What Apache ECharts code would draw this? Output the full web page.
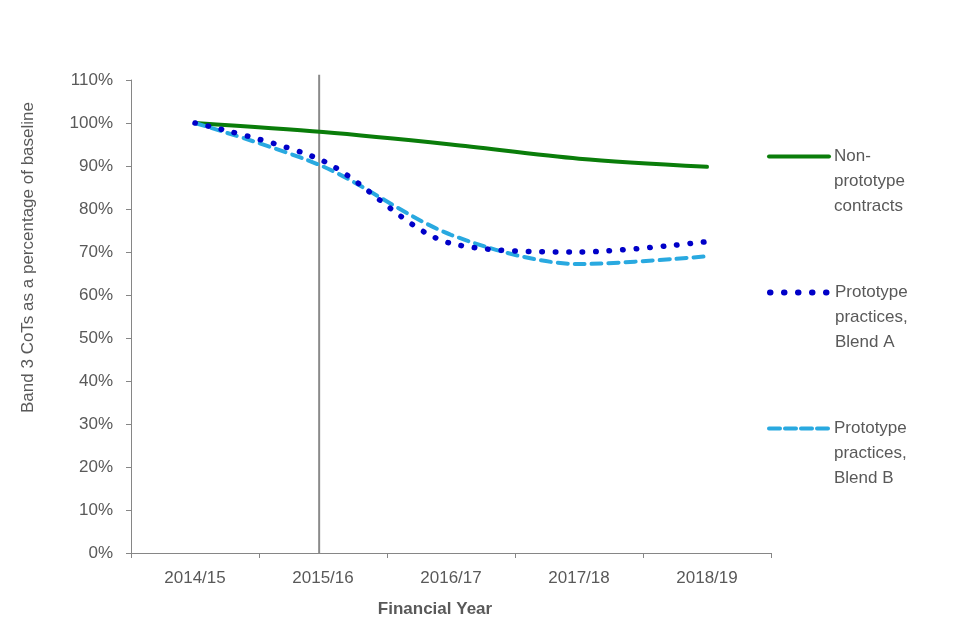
<!DOCTYPE html>
<html>
<head>
<meta charset="utf-8">
<script src="https://cdn.jsdelivr.net/npm/echarts@6/dist/echarts.min.js"></script>
<style>
html,body{margin:0;padding:0;background:#fff;}
#chart{width:960px;height:640px;}
</style>
</head>
<body>
<div id="chart"></div>
<script>
const years = ['2014/15', '2015/16', '2016/17', '2017/18', '2018/19'];
const nonPrototype = [100, 97.9, 95.0, 91.7, 89.8];
const blendA = [100, 91.2, 72.0, 70.0, 72.4];
const blendB = [100, 89.9, 74.0, 67.2, 69.0];
const dividerX = [0.97, 0.97];
const dividerY = [0, 111.2];
const seriesNames = ['Non-prototype contracts', 'Prototype practices, Blend A', 'Prototype practices, Blend B'];
const legendLabels = {
  'Non-prototype contracts': '\n\nNon-\nprototype\ncontracts',
  'Prototype practices, Blend A': '\n\nPrototype\npractices,\nBlend A',
  'Prototype practices, Blend B': '\n\nPrototype\npractices,\nBlend B'
};

const FONT = 'Liberation Sans';
const TXT = '#595959';
const AX = '#868686';

const chart = echarts.init(document.getElementById('chart'), null, {renderer: 'canvas'});

function legendFor(name, top, ls) {
  return {
    data: [name],
    left: 767,
    top: top,
    orient: 'vertical',
    padding: 0,
    itemWidth: 60,
    itemHeight: 14,
    selectedMode: false,
    formatter: n => legendLabels[n],
    itemStyle: {opacity: 0},
    lineStyle: ls,
    textStyle: {color: TXT, fontSize: 17, fontFamily: FONT, lineHeight: 25}
  };
}

chart.setOption({
  animation: false,
  backgroundColor: '#fff',
  grid: {left: 131, right: 189, top: 80, bottom: 87, containLabel: false},
  legend: [
    legendFor(seriesNames[0], 94, {width: 4, type: 'solid'}),
    legendFor(seriesNames[1], 230, {width: 6, type: [0.5, 13.5], cap: 'round'}),
    legendFor(seriesNames[2], 366, {width: 4, type: [11, 5], cap: 'round'})
  ],
  xAxis: [{
    type: 'category',
    data: years,
    boundaryGap: true,
    name: 'Financial Year',
    nameLocation: 'middle',
    nameGap: 48,
    nameTextStyle: {color: TXT, fontSize: 17, fontWeight: 'bold', fontFamily: FONT, padding: [0, 32, 0, 0]},
    axisLine: {lineStyle: {color: AX, width: 1}},
    axisTick: {show: true, length: 5, lineStyle: {color: AX}},
    axisLabel: {color: TXT, fontSize: 17, fontFamily: FONT, margin: 17},
    splitLine: {show: false}
  }, {
    type: 'value',
    min: -0.5,
    max: 4.5,
    show: false
  }],
  yAxis: {
    type: 'value',
    min: 0,
    max: 110,
    interval: 10,
    name: 'Band 3 CoTs as a percentage of baseline',
    nameLocation: 'middle',
    nameRotate: 90,
    nameGap: 94,
    nameTextStyle: {color: TXT, fontSize: 17, fontFamily: FONT, padding: [0, 0, 0, 118]},
    axisLine: {show: true, onZero: false, lineStyle: {color: AX, width: 1}},
    axisTick: {show: true, length: 5, lineStyle: {color: AX}},
    axisLabel: {color: TXT, fontSize: 17, fontFamily: FONT, margin: 18, formatter: '{value}%'},
    splitLine: {show: false}
  },
  series: [
    {
      name: 'divider',
      type: 'line',
      xAxisIndex: 1,
      data: dividerX.map((x, i) => [x, dividerY[i]]),
      symbol: 'none',
      clip: false,
      silent: true,
      lineStyle: {color: '#8a8a8a', width: 2},
      z: 1
    },
    {
      name: seriesNames[0],
      type: 'line',
      data: nonPrototype,
      smooth: 0.3,
      symbol: 'none',
      color: '#0a7d0a',
      lineStyle: {color: '#0a7d0a', width: 4, cap: 'round'},
      z: 3
    },
    {
      name: seriesNames[1],
      type: 'line',
      data: blendA,
      smooth: 0.3,
      symbol: 'none',
      color: '#0000c8',
      lineStyle: {color: '#0000c8', width: 5.5, type: [0.5, 13], cap: 'round'},
      z: 4
    },
    {
      name: seriesNames[2],
      type: 'line',
      data: blendB,
      smooth: 0.3,
      symbol: 'none',
      color: '#29a9e0',
      lineStyle: {color: '#29a9e0', width: 4, type: [10, 7], cap: 'round'},
      z: 3
    }
  ]
});
</script>
</body>
</html>
